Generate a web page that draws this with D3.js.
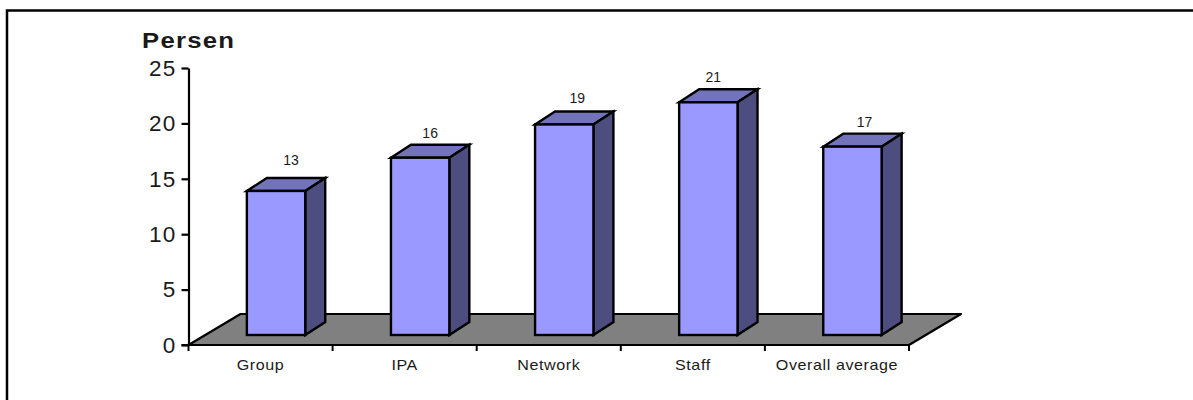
<!DOCTYPE html>
<html>
<head>
<meta charset="utf-8">
<script src="https://cdn.jsdelivr.net/npm/d3@7"></script>
<style>
  html, body { margin: 0; padding: 0; background: #fff; }
  svg { display: block; }
  text { font-family: "Liberation Sans", Arial, sans-serif; fill: #1a1a1a; }
</style>
</head>
<body>
<svg id="chart" width="1193" height="400"></svg>
<script>
const categories = ["Group", "IPA", "Network", "Staff", "Overall average"];
const values = [13, 16, 19, 21, 17];
const yTicks = [0, 5, 10, 15, 20, 25];

const svg = d3.select("#chart");

// Plot box and oblique depth of the floor
const plot = { left: 188.5, right: 909, top: 68, bottom: 345 };
const floorDepth = { dx: 52, dy: -31 };
const barDepth = { dx: 20, dy: -13 };
const barInset = { dx: 0, dy: -10 };

// Hand placement of the value labels relative to each bar
const labelShift = [
  { dx: 15, dy: -26 }, { dx: 10, dy: -20 }, { dx: 13, dy: -21 }, { dx: 5, dy: -20 }, { dx: 12, dy: -20 }
];

const x = d3.scaleBand().domain(categories).range([plot.left, plot.right]).paddingInner(0).paddingOuter(0);
const y = d3.scaleLinear().domain([0, 25]).range([plot.bottom, plot.top]);
const barWidth = x.bandwidth() * 0.405;
const barOffset = x.bandwidth() * 0.405;

// Outer frame, running past the right edge
svg.append("path")
  .attr("d", "M1193,10.5H7V400")
  .attr("fill", "none").attr("stroke", "#000").attr("stroke-width", 2.5);

// Floor
const floor = d3.path();
floor.moveTo(plot.left, plot.bottom);
floor.lineTo(plot.left + floorDepth.dx, plot.bottom + floorDepth.dy);
floor.lineTo(plot.right + floorDepth.dx, plot.bottom + floorDepth.dy);
floor.lineTo(plot.right, plot.bottom);
floor.closePath();
svg.append("path").attr("d", floor.toString())
  .attr("fill", "#808080").attr("stroke", "#000").attr("stroke-width", 2.2).attr("stroke-linejoin", "round");

// Axes
const yAxis = d3.axisLeft(y).tickValues(yTicks).tickSize(7).tickSizeOuter(0).tickPadding(5);
const gy = svg.append("g").attr("transform", `translate(${plot.left},0)`).call(yAxis);
gy.selectAll("path,line").attr("stroke", "#000").attr("stroke-width", 2.2);
gy.selectAll("text").attr("font-size", 22.5).style("letter-spacing", "1.2px");

const xEdges = categories.map(c => x(c)).concat(plot.right);
const gx = svg.append("g");
gx.append("line").attr("x1", plot.left - 7).attr("x2", plot.right)
  .attr("y1", plot.bottom).attr("y2", plot.bottom).attr("stroke", "#000").attr("stroke-width", 2.2);
gx.selectAll("line.tick").data(xEdges).join("line").attr("class", "tick")
  .attr("x1", d => d).attr("x2", d => d)
  .attr("y1", plot.bottom).attr("y2", plot.bottom + 6)
  .attr("stroke", "#000").attr("stroke-width", 2);
gx.selectAll("text").data(categories).join("text")
  .attr("transform", c => `translate(${x(c) + x.bandwidth() / 2},${plot.bottom + 25}) scale(1.15,1)`)
  .attr("text-anchor", "middle")
  .attr("font-size", 14).style("letter-spacing", "0.5px")
  .text(c => c);

// Bars: top and side faces, then the front face
const rows = categories.map((c, i) => ({ c, v: values[i], shift: labelShift[i] }));
const bars = svg.append("g").selectAll("g").data(rows).join("g");

const barLeft = d => x(d.c) + barOffset + barInset.dx;
const barRight = d => barLeft(d) + barWidth;
const barBase = y(0) + barInset.dy;
const barTop = d => barBase - (y(0) - y(d.v));

bars.append("path")
  .attr("d", d => `M${barLeft(d)},${barTop(d)}l${barDepth.dx},${barDepth.dy}H${barRight(d) + barDepth.dx}L${barRight(d)},${barTop(d)}Z`)
  .attr("fill", "#7373bb");
bars.append("path")
  .attr("d", d => `M${barRight(d)},${barTop(d)}l${barDepth.dx},${barDepth.dy}V${barBase + barDepth.dy}L${barRight(d)},${barBase}Z`)
  .attr("fill", "#4d4d80");
bars.append("rect")
  .attr("x", barLeft).attr("y", barTop)
  .attr("width", barWidth).attr("height", d => barBase - barTop(d))
  .attr("fill", "#9999ff");
bars.selectAll("path,rect").attr("stroke", "#000").attr("stroke-width", 2.4).attr("stroke-linejoin", "miter");

// Value labels above each bar
bars.append("text")
  .attr("x", d => barLeft(d) + barWidth / 2 + d.shift.dx)
  .attr("y", d => barTop(d) + d.shift.dy)
  .attr("text-anchor", "middle")
  .attr("font-size", 14)
  .text(d => d.v);

// Axis title
svg.append("text")
  .attr("transform", "translate(142,48) scale(1.17,1)")
  .attr("font-size", 22).attr("font-weight", "bold")
  .style("letter-spacing", "1.05px")
  .text("Persen");
</script>
</body>
</html>
